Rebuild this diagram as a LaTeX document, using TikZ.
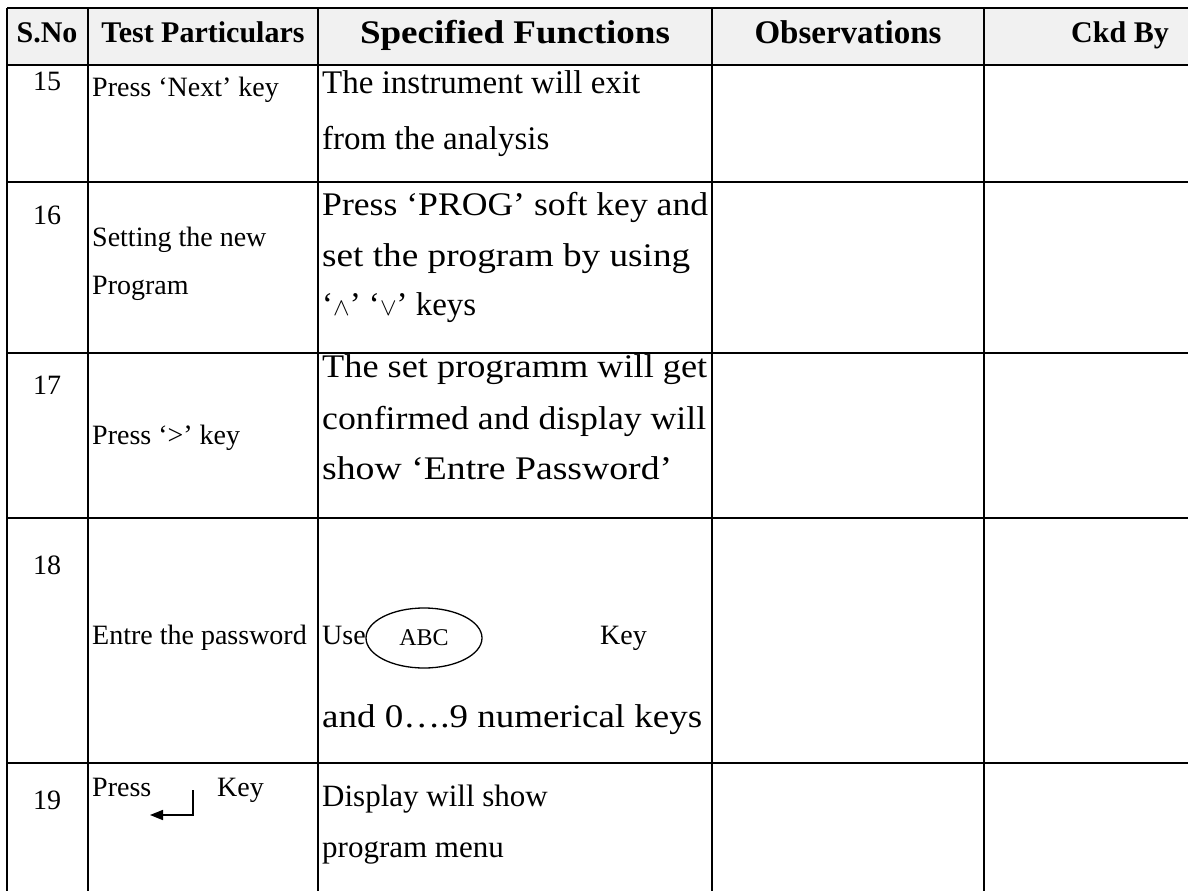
\documentclass[tikz,border=0pt]{standalone}
\usepackage{fontspec}
\usepackage{graphicx}
\setmainfont{Liberation Serif}
\usetikzlibrary{arrows.meta,shapes.geometric}
\definecolor{hdrgray}{HTML}{F1F1F1}
\newcommand{\fitw}[2]{\resizebox{#1}{\height}{#2}}
\tikzset{
  grid/.style={line width=2.6pt},
  hdr/.style={font=\fontsize{30}{32}\selectfont\bfseries, anchor=base},
  hdrbig/.style={font=\fontsize{33}{35}\selectfont\bfseries, anchor=base},
  num/.style={font=\fontsize{28}{30}\selectfont, anchor=base},
  txt/.style={font=\fontsize{28}{30}\selectfont, anchor=base west, inner sep=0pt},
  ftxt/.style={font=\fontsize{33}{35}\selectfont, anchor=base west, inner sep=0pt},
  stxt/.style={font=\fontsize{31}{33}\selectfont, anchor=base west, inner sep=0pt},
  keyoval/.style={ellipse, draw, line width=1.3pt, minimum width=116pt, minimum height=60pt, font=\fontsize{24}{26}\selectfont},
  enter/.style={line width=1.6pt, -{Triangle[length=13pt,width=10pt]}}
}
\begin{document}
\begin{tikzpicture}[x=1pt,y=-1pt]
\useasboundingbox (0,0) rectangle (1188,891);
\fill[hdrgray] (7,8) rectangle (1188,65);
% horizontal rules
\foreach \yy in {8,65,182,353,518,763} \draw[grid] (7,\yy) -- (1188,\yy);
% vertical rules
\foreach \xx in {7,88,318,712,984} \draw[grid] (\xx,8) -- (\xx,891);
% header
\node[hdr] (h1) at (47,43) {S.No};
\node[hdr] (h2) at (203,43) {Test Particulars};
\node[hdrbig] (h3) at (515,44) {\fitw{310pt}{Specified Functions}};
\node[hdrbig] (h4) at (848,44) {Observations};
\node[hdr] (h5) at (1120,43) {Ckd By};
% row 15
\node[num] (n15) at (47,90) {15};
\node[txt] (t15) at (92,96) {Press ‘Next’ key};
\node[ftxt] (f15a) at (322,93) {The instrument will exit};
\node[ftxt] (f15b) at (322,149) {from the analysis};
% row 16
\node[num] (n16) at (47,224) {16};
\node[txt] (t16a) at (92,246) {Setting the new};
\node[txt] (t16b) at (92,294) {Program};
\node[ftxt] (f16a) at (322,215) {\fitw{386pt}{Press ‘PROG’ soft key and}};
\node[ftxt] (f16b) at (322,266) {\fitw{368pt}{set the program by using}};
\node[ftxt] (f16c) at (322,315) {‘{\fontsize{26}{28}\selectfont$\wedge$}’ ‘{\fontsize{26}{28}\selectfont$\vee$}’ keys};
% row 17
\node[num] (n17) at (47,394) {17};
\node[txt] (t17) at (92,444) {Press ‘>’ key};
\node[ftxt] (f17a) at (322,377) {\fitw{385pt}{The set programm will get}};
\node[ftxt] (f17b) at (322,429) {\fitw{384pt}{confirmed and display will}};
\node[ftxt] (f17c) at (322,479) {\fitw{350pt}{show ‘Entre Password’}};
% row 18
\node[num] (n18) at (47,574) {18};
\node[txt] (t18) at (92,644) {Entre the password};
\node[txt] (f18a) at (322,644) {Use};
\node[keyoval] (abc) at (424,638) {ABC};
\node[txt] (f18k) at (600,644) {Key};
\node[ftxt] (f18b) at (322,727) {\fitw{380pt}{and 0….9 numerical keys}};
% row 19
\node[num] (n19) at (47,809) {19};
\node[txt] (t19a) at (92,796) {Press};
\node[txt] (t19k) at (217,796) {Key};
\coordinate (ent1) at (193,790);
\coordinate (ent2) at (193,815);
\coordinate (ent3) at (150,815);
\draw[enter] (ent1) -- (ent2) -- (ent3);
\node[stxt] (f19a) at (322,806) {Display will show};
\node[stxt] (f19b) at (322,857) {program menu};
\end{tikzpicture}
\end{document}
